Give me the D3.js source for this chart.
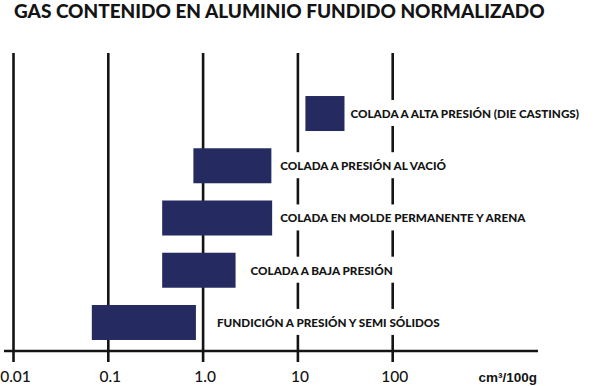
<!DOCTYPE html>
<html>
<head>
<meta charset="utf-8">
<script src="https://cdn.jsdelivr.net/npm/d3@7"></script>
<style>
  body { margin: 0; background: #fff; }
  svg { display: block; }
</style>
</head>
<body>
<svg class="gas-chart"></svg>
<script>
var title = "GAS CONTENIDO EN ALUMINIO FUNDIDO NORMALIZADO";
var processes = [
    "COLADA A ALTA PRESIÓN (DIE CASTINGS)",
    "COLADA A PRESIÓN AL VACIÓ",
    "COLADA EN MOLDE PERMANENTE Y ARENA",
    "COLADA A BAJA PRESIÓN",
    "FUNDICIÓN A PRESIÓN Y SEMI SÓLIDOS"
];
var gasMin = [12, 0.79, 0.37, 0.37, 0.067];
var gasMax = [31, 5.25, 5.35, 2.2, 0.84];
var tickValues = [0.01, 0.1, 1, 10, 100];
var tickLabels = ["0.01", "0.1", "1.0", "10", "100"];
var unitLabel = "cm³/100g";

var width = 607;
var height = 386;
var navy = "#252b60";
var ink = "#141414";
// gap between bar end and its label, per row (matches the original layout)
var labelGap = [6, 9, 8, 15, 21];

var svg = d3.select("svg.gas-chart")
    .attr("width", width)
    .attr("height", height);

var x = d3.scaleLog()
    .domain([0.01, 100])
    .range([13.5, 392.7]);

var y = d3.scaleBand()
    .domain(processes)
    .range([87.4, 348.6])
    .paddingInner(0.33)
    .paddingOuter(0.165);

var rows = processes.map(function(p, i) {
    return {name: p, lo: gasMin[i], hi: gasMax[i], gap: labelGap[i]};
});

// title
svg.append("text")
    .attr("x", 14)
    .attr("y", 17.5)
    .attr("font-family", "Lato")
    .attr("font-weight", 900)
    .attr("font-size", 19)
    .attr("fill", ink)
    .text(title);

// vertical decade lines (also the ticks)
svg.append("g")
    .selectAll("line")
    .data(tickValues)
    .enter()
    .append("line")
    .attr("x1", function(d) { return x(d); })
    .attr("x2", function(d) { return x(d); })
    .attr("y1", 53)
    .attr("y2", 362)
    .attr("stroke", ink)
    .attr("stroke-width", 2.6);

// axis line
svg.append("line")
    .attr("x1", 4)
    .attr("x2", 538)
    .attr("y1", 351)
    .attr("y2", 351)
    .attr("stroke", ink)
    .attr("stroke-width", 2.6);

// tick labels
svg.append("g")
    .selectAll("text")
    .data(tickValues)
    .enter()
    .append("text")
    .attr("x", function(d) { return x(d) + 2; })
    .attr("y", 382)
    .attr("text-anchor", "middle")
    .attr("font-family", "Lato")
    .attr("font-weight", 500)
    .attr("font-size", 15.5)
    .attr("fill", ink)
    .text(function(d, i) { return tickLabels[i]; });

svg.append("text")
    .attr("x", 537)
    .attr("y", 382)
    .attr("text-anchor", "end")
    .attr("font-family", "Liberation Sans")
    .attr("font-weight", 700)
    .attr("font-size", 13.5)
    .attr("fill", ink)
    .text(unitLabel);

// labels with white backing, which cuts the decade lines behind them
var labels = svg.append("g")
    .selectAll("g")
    .data(rows)
    .enter()
    .append("g");

labels.append("rect")
    .attr("fill", "#fff");

labels.append("text")
    .attr("x", function(d) { return x(d.hi) + d.gap; })
    .attr("y", function(d) { return y(d.name) + y.bandwidth() / 2; })
    .attr("dy", "0.38em")
    .attr("font-family", "Lato")
    .attr("font-weight", 900)
    .attr("font-size", 11.7)
    .attr("fill", ink)
    .text(function(d) { return d.name; });

labels.each(function() {
    var g = d3.select(this);
    var box = g.select("text").node().getBBox();
    g.select("rect")
        .attr("x", box.x - 4)
        .attr("width", box.width + 8)
        .attr("y", box.y + box.height / 2 - 13)
        .attr("height", 26);
});

// bars
svg.append("g")
    .selectAll("rect")
    .data(rows)
    .enter()
    .append("rect")
    .attr("x", function(d) { return x(d.lo); })
    .attr("width", function(d) { return x(d.hi) - x(d.lo); })
    .attr("y", function(d) { return y(d.name); })
    .attr("height", y.bandwidth())
    .attr("fill", navy);
</script>
</body>
</html>
